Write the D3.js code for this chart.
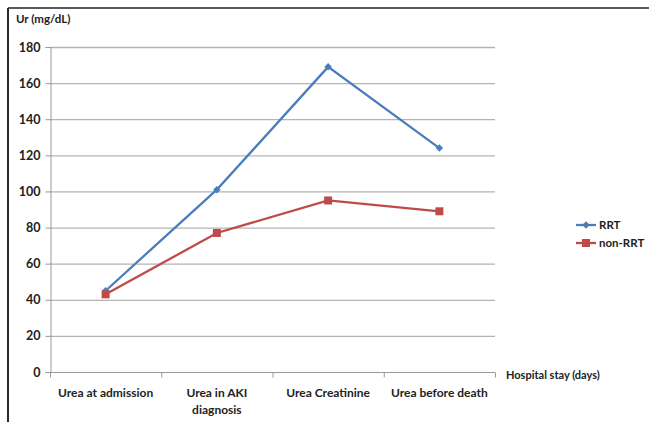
<!DOCTYPE html>
<html>
<head>
<meta charset="utf-8">
<script src="https://cdn.jsdelivr.net/npm/d3@7"></script>
<style>
  html, body { margin: 0; padding: 0; background: #fff; }
  svg text { font-family: Lato, "Open Sans", "Liberation Sans", sans-serif; font-weight: bold; fill: #222; }
</style>
</head>
<body>
<svg id="chart" width="649" height="422"></svg>
<script>
// Categories along the hospital stay
const categories = [["Urea at admission"], ["Urea in AKI", "diagnosis"], ["Urea Creatinine"], ["Urea before death"]];
const categoryKeys = ["adm", "aki", "creat", "death"];

// Urea values (mg/dL) per group
const rrtValues = [45, 101, 169, 124];
const nonRrtValues = [43, 77, 95, 89];

// Y axis ticks
const yTicks = [0, 20, 40, 60, 80, 100, 120, 140, 160, 180];

const seriesNames = ["RRT", "non-RRT"];
const seriesColors = ["#4a7ebb", "#be4b48"];

(function () {
  const svg = d3.select("#chart");

  // square diamond marker (equal width and height)
  const roundDiamond = {
    draw(ctx, size) {
      const r = Math.sqrt(size / 2);
      ctx.moveTo(0, -r); ctx.lineTo(r, 0); ctx.lineTo(0, r); ctx.lineTo(-r, 0); ctx.closePath();
    }
  };
  const markerPath = s => s === 0
    ? d3.symbol().type(roundDiamond).size(28)()
    : d3.symbol().type(d3.symbolSquare).size(64)();

  // outer frame (top and left edges)
  svg.append("line").attr("x1", 8).attr("x2", 649).attr("y1", 8).attr("y2", 8)
    .attr("stroke", "#5a5a5a").attr("stroke-width", 2);
  svg.append("line").attr("x1", 8).attr("x2", 8).attr("y1", 8).attr("y2", 422)
    .attr("stroke", "#2a2a2a").attr("stroke-width", 2);

  const plotLeft = 50, plotRight = 495, plotTop = 47, plotBottom = 372;

  const x = d3.scaleBand().domain(categoryKeys).range([plotLeft, plotRight]).padding(0);
  const y = d3.scaleLinear().domain([0, 180]).range([plotBottom, plotTop]);

  // horizontal gridlines
  svg.append("g").selectAll("line").data(yTicks.filter(d => d > 0)).join("line")
    .attr("x1", plotLeft).attr("x2", plotRight)
    .attr("y1", d => y(d) + 0.5).attr("y2", d => y(d) + 0.5)
    .attr("stroke", "#b4b4b4").attr("stroke-width", 1.3);

  // y axis
  const yAxis = svg.append("g").attr("transform", `translate(${plotLeft + 0.5},0)`)
    .call(d3.axisLeft(y).tickValues(yTicks).tickSize(5).tickPadding(5));
  yAxis.select(".domain").attr("stroke", "#999");
  yAxis.selectAll(".tick line").attr("stroke", "#999");
  yAxis.selectAll(".tick text").style("font-size", "12.5px").attr("fill", "#222");

  // x axis
  const xAxisG = svg.append("g").attr("transform", `translate(0,${plotBottom + 0.5})`);
  xAxisG.append("line").attr("x1", plotLeft).attr("x2", plotRight).attr("stroke", "#999");
  const boundaries = categoryKeys.map(k => x(k)).concat([plotRight]);
  xAxisG.selectAll("line.tk").data(boundaries).join("line").attr("class", "tk")
    .attr("x1", d => d + 0.5).attr("x2", d => d + 0.5).attr("y1", 0).attr("y2", 5).attr("stroke", "#999");

  // category labels
  categoryKeys.forEach((k, i) => {
    const cx = x(k) + x.bandwidth() / 2;
    const t = svg.append("text").attr("x", cx).attr("y", 397)
      .attr("text-anchor", "middle").style("font-size", "12px");
    categories[i].forEach((ln, j) => {
      t.append("tspan").attr("x", cx).attr("dy", j === 0 ? 0 : 17).text(ln);
    });
  });

  // axis titles
  svg.append("text").attr("x", 506).attr("y", 379).style("font-size", "11px").text("Hospital stay (days)");
  svg.append("text").attr("x", 16).attr("y", 23).style("font-size", "11.5px").text("Ur (mg/dL)");

  // series lines and markers
  const allSeries = [rrtValues, nonRrtValues];
  const lineGen = d3.line().x((d, i) => x(categoryKeys[i]) + x.bandwidth() / 2).y(d => y(d));

  allSeries.forEach((vals, s) => {
    const g = svg.append("g");
    g.append("path").datum(vals).attr("d", lineGen).attr("fill", "none")
      .attr("stroke", seriesColors[s]).attr("stroke-width", 2.3);
    g.selectAll("path.m").data(vals).join("path").attr("class", "m")
      .attr("transform", (d, i) => `translate(${x(categoryKeys[i]) + x.bandwidth() / 2},${y(d)})`)
      .attr("d", markerPath(s))
      .attr("fill", seriesColors[s]);
  });

  // legend
  seriesNames.forEach((name, s) => {
    const ly = 225 + s * 18;
    const g = svg.append("g");
    g.append("line").attr("x1", 576).attr("x2", 596).attr("y1", ly).attr("y2", ly)
      .attr("stroke", seriesColors[s]).attr("stroke-width", 2.3);
    g.append("path").attr("transform", `translate(586,${ly})`)
      .attr("d", markerPath(s))
      .attr("fill", seriesColors[s]);
    g.append("text").attr("x", 599).attr("y", ly + 4).style("font-size", "11.5px").text(name);
  });
})();
</script>
</body>
</html>
